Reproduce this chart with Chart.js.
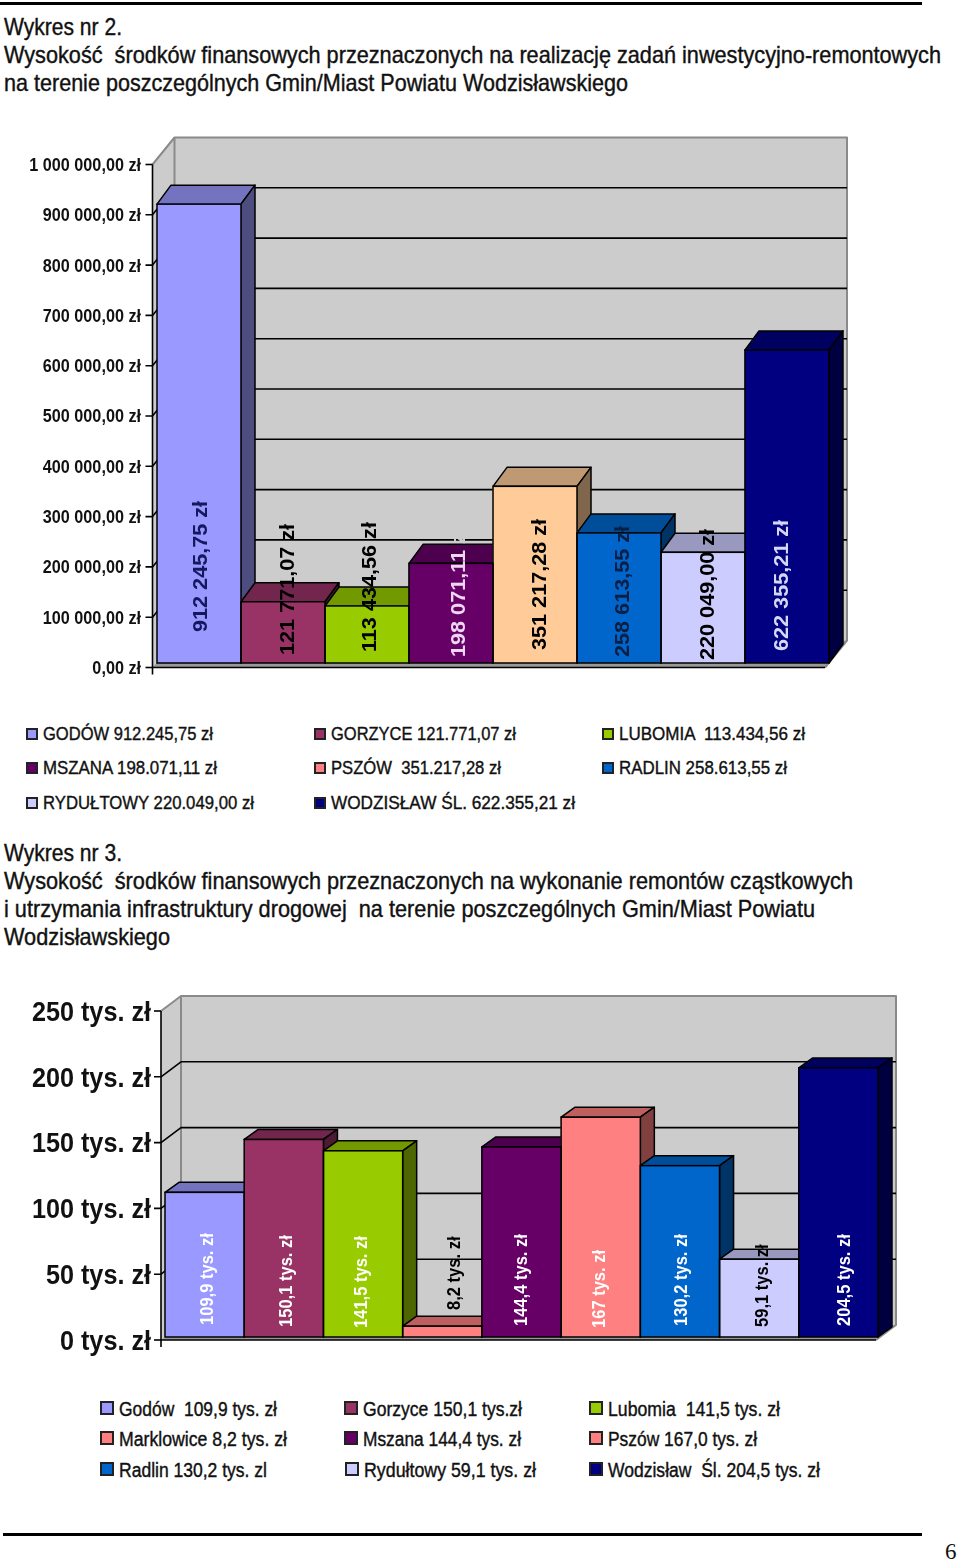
<!DOCTYPE html>
<html lang="pl">
<head>
<meta charset="utf-8">
<title>Wykresy</title>
<script src="https://cdn.jsdelivr.net/npm/chart.js@4"></script>
<style>
html,body{margin:0;padding:0;background:#fff;}
body{position:relative;width:960px;height:1560px;overflow:hidden;}
canvas{display:block;}
.wrap{position:absolute;left:0;width:960px;}
.t{position:absolute;white-space:pre;transform-origin:0 0;color:#111;font-family:"Liberation Sans",Arial,sans-serif;-webkit-text-stroke:0.4px #111;line-height:1;}
.sw{position:absolute;box-sizing:border-box;border:2px solid #222;}
.rule{position:absolute;background:#000;}
</style>
</head>
<body>
<div class="rule" style="left:0;top:2px;width:922px;height:3px"></div>
<div class="rule" style="left:3px;top:1533px;width:919px;height:3px"></div>
<div class="wrap" style="top:130px;height:560px"><canvas id="c1" width="960" height="560"></canvas></div>
<div class="wrap" style="top:985px;height:375px"><canvas id="c2" width="960" height="375"></canvas></div>
<script>
// ---------- chart 1 data ----------
const categories1 = ['GODÓW','GORZYCE','LUBOMIA','MSZANA','PSZÓW','RADLIN','RYDUŁTOWY','WODZISŁAW ŚL.'];
const values1 = [912245.75,121771.07,113434.56,198071.11,351217.28,258613.55,220049.00,622355.21];
const valueLabels1 = ['912 245,75 zł','121 771,07 zł','113 434,56 zł','198 071,11 zł','351 217,28 zł','258 613,55 zł','220 049,00 zł','622 355,21 zł'];
const tickLabels1 = ['0,00 zł','100 000,00 zł','200 000,00 zł','300 000,00 zł','400 000,00 zł','500 000,00 zł','600 000,00 zł','700 000,00 zł','800 000,00 zł','900 000,00 zł','1 000 000,00 zł'];
const colors1 = ['#9999FF','#993366','#99CC00','#660066','#FFCC99','#0066CC','#CCCCFF','#000080'];
const swatchColors1 = ['#9999FF','#993366','#99CC00','#660066','#FF8080','#0066CC','#CCCCFF','#000080'];
const labelColors1 = ['#14185e','#000','#000','#ecd6f2','#000','#0b1f45','#000','#d4d8f4'];
// ---------- chart 2 data ----------
const categories2 = ['Godów','Gorzyce','Lubomia','Marklowice','Mszana','Pszów','Radlin','Rydułtowy','Wodzisław Śl.'];
const values2 = [109.9,150.1,141.5,8.2,144.4,167.0,130.2,59.1,204.5];
const valueLabels2 = ['109,9 tys. zł','150,1 tys. zł','141,5 tys. zł','8,2 tys. zł','144,4 tys. zł','167 tys. zł','130,2 tys. zł','59,1 tys. zł','204,5 tys. zł'];
const tickLabels2 = ['0 tys. zł','50 tys. zł','100 tys. zł','150 tys. zł','200 tys. zł','250 tys. zł'];
const colors2 = ['#9999FF','#993366','#99CC00','#FF8080','#660066','#FF8080','#0066CC','#CCCCFF','#000080'];
const labelColors2 = ['#fff','#fff','#fff','#000','#fff','#fff','#fff','#000','#fff'];

// ---------- page text ----------
const pageText = [
 ['Wykres nr 2.',4,15,118,24],
 ['Wysokość  środków finansowych przeznaczonych na realizację zadań inwestycyjno-remontowych',4,43,937,24],
 ['na terenie poszczególnych Gmin/Miast Powiatu Wodzisławskiego',4,71,624,24],
 ['Wykres nr 3.',4,841,118,24],
 ['Wysokość  środków finansowych przeznaczonych na wykonanie remontów cząstkowych',4,869,849,24],
 ['i utrzymania infrastruktury drogowej  na terenie poszczególnych Gmin/Miast Powiatu',4,897,811,24],
 ['Wodzisławskiego',4,925,166,24]
];
const legendText1 = [
 ['GODÓW 912.245,75 zł',43,724,170,0],['GORZYCE 121.771,07 zł',331,724,185,1],['LUBOMIA  113.434,56 zł',619,724,186,2],
 ['MSZANA 198.071,11 zł',43,758,174,3],['PSZÓW  351.217,28 zł',331,758,170,4],['RADLIN 258.613,55 zł',619,758,168,5],
 ['RYDUŁTOWY 220.049,00 zł',43,793,211,6],['WODZISŁAW ŚL. 622.355,21 zł',331,793,244,7]
];
const legendText2 = [
 ['Godów  109,9 tys. zł',119,1399,158,0],['Gorzyce 150,1 tys.zł',363,1399,159,1],['Lubomia  141,5 tys. zł',608,1399,172,2],
 ['Marklowice 8,2 tys. zł',119,1429,168,3],['Mszana 144,4 tys. zł',363,1429,158,4],['Pszów 167,0 tys. zł',608,1429,149,5],
 ['Radlin 130,2 tys. zl',119,1460,148,6],['Rydułtowy 59,1 tys. zł',364,1460,172,7],['Wodzisław  Śl. 204,5 tys. zł',608,1460,212,8]
];
function addText(str,x,y,w,size,extra){
  const d=document.createElement('div');d.className='t';d.textContent=str;
  d.style.left=x+'px';d.style.top=y+'px';d.style.fontSize=size+'px';
  if(extra)Object.assign(d.style,extra);
  document.body.appendChild(d);
  if(w){const m=d.getBoundingClientRect().width;d.style.transform='scaleX('+(w/m)+')';}
}
pageText.forEach(r=>addText(r[0],r[1],r[2],r[3],r[4]));
function addSwatch(x,y,s,c){const e=document.createElement('div');e.className='sw';e.style.cssText=`left:${x}px;top:${y}px;width:${s}px;height:${s}px;background:${c}`;document.body.appendChild(e);}
legendText1.forEach(r=>{addText(r[0],r[1],r[2],r[3],19);addSwatch(r[1]-17,r[2]+4,12,swatchColors1[r[4]]);});
legendText2.forEach(r=>{addText(r[0],r[1],r[2],r[3],20);addSwatch(r[1]-19,r[2]+2,14,colors2[r[4]]);});
addText('6',945,1540,0,23,{fontFamily:'"Liberation Serif",serif',webkitTextStroke:'0'});

// ---------- 3D drawing ----------
function shade(hex,f){
  const n=parseInt(hex.slice(1),16);
  return 'rgb('+[(n>>16)&255,(n>>8)&255,n&255].map(v=>Math.round(v*f)).join(',')+')';
}
function poly(ctx,pts,fill,stroke,lw){
  ctx.beginPath();pts.forEach((p,i)=>i?ctx.lineTo(p[0],p[1]):ctx.moveTo(p[0],p[1]));ctx.closePath();
  if(fill){ctx.fillStyle=fill;ctx.fill();}
  if(stroke){ctx.strokeStyle=stroke;ctx.lineWidth=lw;ctx.lineJoin='round';ctx.stroke();}
}
function make3D(o){
  return {
    id:'box3d',
    beforeDraw(chart){
      // condense the axis labels horizontally around their right edge
      const s=chart.scales.y;
      if(!s.__condensed){
        s.__condensed=true;
        const orig=s.drawLabels;
        s.drawLabels=function(a){
          const c=this.ctx,ax=this.right-o.tickPad;
          c.save();c.translate(ax,0);c.scale(o.tickScale,1);c.translate(-ax,0);
          orig.call(this,a);c.restore();
        };
      }
    },
    beforeDatasetsDraw(chart){
      const ctx=chart.ctx,y=chart.scales.y,ca=chart.chartArea;
      ctx.save();
      const fx=ca.left-o.axisGap, fy=v=>y.getPixelForValue(v)+o.frontDrop;
      const top=fy(y.max),bot=fy(0),bx=fx+o.wallDx,rx=o.floorRight;
      poly(ctx,[[bx,top-o.wallDy],[rx+o.wallDx,top-o.wallDy],[rx+o.wallDx,bot-o.wallDy],[bx,bot-o.wallDy]],'#CCCCCC');
      poly(ctx,[[fx,top],[bx,top-o.wallDy],[bx,bot-o.wallDy],[fx,bot]],'#CCCCCC');
      poly(ctx,[[fx,bot],[rx,bot],[rx+o.wallDx,bot-o.wallDy],[bx,bot-o.wallDy]],'#999999');
      ctx.strokeStyle='#8a8a8a';ctx.lineWidth=2;ctx.lineJoin='round';
      ctx.beginPath();ctx.moveTo(fx,top);ctx.lineTo(bx,top-o.wallDy);ctx.lineTo(rx+o.wallDx,top-o.wallDy);ctx.lineTo(rx+o.wallDx,bot-o.wallDy);ctx.lineTo(rx,bot);ctx.moveTo(bx,top-o.wallDy);ctx.lineTo(bx,bot-o.wallDy);ctx.stroke();
      ctx.strokeStyle='#000';ctx.lineWidth=1.6;
      y.ticks.forEach(t=>{
        const p=fy(t.value);
        ctx.beginPath();ctx.moveTo(fx-o.tickLen,p);ctx.lineTo(fx,p);
        if(t.value<y.max&&t.value>0){ctx.lineTo(bx,p-o.wallDy);ctx.lineTo(rx+o.wallDx,p-o.wallDy);}
        ctx.stroke();
      });
      ctx.beginPath();ctx.moveTo(fx,top);ctx.lineTo(fx,bot+o.tickLen);ctx.moveTo(fx,bot);ctx.lineTo(rx,bot);ctx.stroke();
      const bars=chart.getDatasetMeta(0).data;
      bars.forEach((b,i)=>{
        const l=b.x-b.width/2,r=b.x+b.width/2,t=b.y,base=b.base,c=o.colors[i],dx=o.barDx,dy=o.barDy;
        poly(ctx,[[l,t],[l+dx,t-dy],[r+dx,t-dy],[r,t]],shade(c,.75),'#000',1.5);
        poly(ctx,[[r,t],[r+dx,t-dy],[r+dx,base-dy],[r,base]],shade(c,.5),'#000',1.5);
      });
      ctx.restore();
    },
    afterDatasetsDraw(chart){
      const ctx=chart.ctx,bars=chart.getDatasetMeta(0).data;
      ctx.save();
      ctx.strokeStyle='#000';ctx.lineWidth=1.5;
      bars.forEach(b=>ctx.strokeRect(b.x-b.width/2,b.y,b.width,b.base-b.y));
      ctx.font=o.labelFont;ctx.textAlign='left';ctx.textBaseline='middle';
      bars.forEach((b,i)=>{
        const drawIt=col=>{ctx.save();ctx.translate(b.x+o.labelDx[i],b.base-o.labelLift[i]);ctx.rotate(-Math.PI/2);ctx.scale(o.labelScale,1);ctx.fillStyle=col;ctx.fillText(o.labels[i],0,0);ctx.restore();};
        if(o.hiddenAbove===i){
          ctx.save();ctx.beginPath();ctx.rect(0,b.y-o.barDy,960,600);ctx.clip();drawIt(o.labelColors[i]);ctx.restore();
          ctx.save();ctx.beginPath();ctx.rect(0,0,960,b.y-o.barDy);ctx.clip();drawIt('#CCCCCC');ctx.restore();
        } else drawIt(o.labelColors[i]);
      });
      ctx.restore();
    }
  };
}
function build(id,cats,vals,cols,ticks,max,step,pad,leftW,font,tickPad,plug,labelOffset){
  return new Chart(document.getElementById(id),{
    type:'bar',
    data:{labels:cats,datasets:[{data:vals,backgroundColor:cols,borderWidth:0,barPercentage:1,categoryPercentage:1}]},
    options:{
      responsive:false,animation:false,
      layout:{padding:pad,autoPadding:false},
      plugins:{legend:{display:false},title:{display:false},tooltip:{enabled:false}},
      scales:{
        x:{display:false},
        y:{min:0,max:max,
           afterFit(s){s.width=leftW;s.paddingTop=0;s.paddingBottom=0;},
           grid:{display:false,drawTicks:false},border:{display:false},
           ticks:{stepSize:step,padding:tickPad,labelOffset:labelOffset,color:'#111',font:font,
                  callback(v,i){return ticks[i];}}}
      }
    },
    plugins:[plug]
  });
}
build('c1',categories1,values1,colors1,tickLabels1,1000000,100000,{top:30,bottom:27,right:131,left:0},157,
  {family:'"Liberation Sans"',size:18,weight:'bold'},16,
  make3D({colors:colors1,labels:valueLabels1,labelColors:labelColors1,axisGap:4.5,frontDrop:4.5,wallDx:22,wallDy:27,floorRight:825,tickLen:7,barDx:14,barDy:19,
    labelFont:'bold 21px "Liberation Sans"',labelScale:1.03,tickPad:16,tickScale:.9,hiddenAbove:3,
    labelDx:[2,5,3.5,8,5,4,5,-5],labelLift:[31,8,11,6,13,6,3,12]}),6);
build('c2',categories2,values2,colors2,tickLabels2,250,50,{top:23,bottom:23,right:82,left:0},165,
  {family:'"Liberation Sans"',size:28,weight:'bold'},14,
  make3D({colors:colors2,labels:valueLabels2,labelColors:labelColors2,axisGap:4,frontDrop:3,wallDx:20,wallDy:15,floorRight:876,tickLen:7,barDx:14,barDy:10,
    labelFont:'bold 19px "Liberation Sans"',labelScale:.87,tickPad:14,tickScale:.9,hiddenAbove:-1,
    labelDx:[3.5,3,-1,12,0,-1,2,4,6],labelLift:[12,10,9,27,11,9,11,10,11]}),5);
</script>
</body>
</html>
